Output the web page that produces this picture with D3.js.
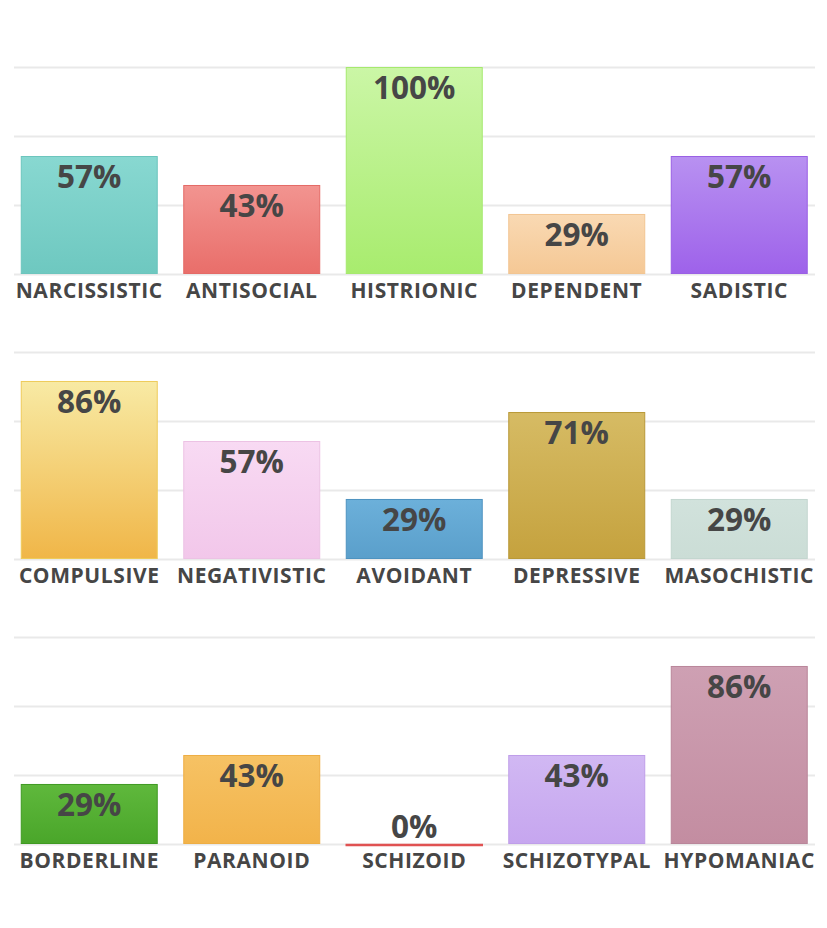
<!DOCTYPE html>
<html>
<head>
<meta charset="utf-8">
<script src="https://cdn.jsdelivr.net/npm/d3@7"></script>
<style>
  html, body { margin: 0; padding: 0; background: #fff; }
  svg { display: block; font-family: "Open Sans", sans-serif; }
</style>
</head>
<body>
<div id="chart"></div>
<script>
// rows of categories, values (%), and gradient colours (top, bottom, stroke)
const rowCategories = [
    ["NARCISSISTIC", "ANTISOCIAL", "HISTRIONIC", "DEPENDENT", "SADISTIC"],
    ["COMPULSIVE", "NEGATIVISTIC", "AVOIDANT", "DEPRESSIVE", "MASOCHISTIC"],
    ["BORDERLINE", "PARANOID", "SCHIZOID", "SCHIZOTYPAL", "HYPOMANIAC"]
];
const rowValues = [
    [57, 43, 100, 29, 57],
    [86, 57, 29, 71, 29],
    [29, 43, 0, 43, 86]
];
const topColors = [
    ["#88d8d1", "#f29490", "#cbf6a6", "#f9d9b3", "#b891f1"],
    ["#f8eaa4", "#f8daf3", "#6cb0da", "#d6bb64", "#d1e2dc"],
    ["#5fb83c", "#f6c264", "#e86060", "#d1b8f3", "#cea0b3"]
];
const bottomColors = [
    ["#6ec8c0", "#e96e6a", "#a8ec6e", "#f5c895", "#9e62ea"],
    ["#f0b648", "#f2c7ea", "#5a9fcb", "#c5a23e", "#cbddd6"],
    ["#4aa62a", "#f2b34a", "#e86060", "#c6a6ef", "#c38da1"]
];
const strokeColors = [
    ["#6cc5bd", "#e46a66", "#a6e96e", "#f2c592", "#9a60e4"],
    ["#eecb5a", "#ecc2e4", "#4e93c0", "#b99938", "#c3d6cf"],
    ["#3f9a22", "#eeae44", "#e05252", "#bf9ee9", "#b9869a"]
];
const gridTicks = [0, 100 / 3, 200 / 3, 100];

const W = 827, H = 928;
const rowBase = [274, 559, 844];
const rowTop = [67, 352, 637];

const svg = d3.select("#chart").append("svg")
    .attr("width", W)
    .attr("height", H);

const defs = svg.append("defs");

const x = d3.scaleBand()
    .domain(d3.range(5))
    .range([8, 820.5])
    .paddingInner(0.157)
    .paddingOuter(0.0785);

rowCategories.forEach((cats, r) => {
    const y = d3.scaleLinear()
        .domain([0, 100])
        .range([rowBase[r], rowTop[r]]);

    const g = svg.append("g");

    // gridlines
    g.selectAll("line.grid")
        .data(gridTicks)
        .enter()
        .append("line")
        .attr("class", "grid")
        .attr("x1", 14)
        .attr("x2", 815)
        .attr("y1", d => Math.round(y(d)) + 0.5)
        .attr("y2", d => Math.round(y(d)) + 0.5)
        .attr("stroke", "#e9e9e9")
        .attr("stroke-width", 2);

    const data = cats.map((c, i) => ({
        cat: c,
        i: i,
        v: rowValues[r][i],
        top: topColors[r][i],
        bottom: bottomColors[r][i],
        stroke: strokeColors[r][i]
    }));

    data.forEach(d => {
        const grad = defs.append("linearGradient")
            .attr("id", `grad-${r}-${d.i}`)
            .attr("x1", 0).attr("y1", 0)
            .attr("x2", 0).attr("y2", 1);
        grad.append("stop").attr("offset", "0%").attr("stop-color", d.top);
        grad.append("stop").attr("offset", "100%").attr("stop-color", d.bottom);
    });

    // bars
    g.selectAll("rect.bar")
        .data(data)
        .enter()
        .append("rect")
        .attr("class", "bar")
        .attr("x", d => x(d.i) + 0.5)
        .attr("y", d => y(d.v) + 0.5)
        .attr("width", x.bandwidth() - 1)
        .attr("height", d => Math.max(1, y(0) - y(d.v) - 1))
        .attr("fill", d => d.v > 0 ? `url(#grad-${r}-${d.i})` : d.bottom)
        .attr("stroke", d => d.stroke)
        .attr("stroke-width", d => d.v > 0 ? 1 : 1.5);

    // value labels
    g.selectAll("text.value")
        .data(data)
        .enter()
        .append("text")
        .attr("class", "value")
        .attr("x", d => x(d.i) + x.bandwidth() / 2)
        .attr("y", d => d.v >= 15 ? y(d.v) + 32 : y(d.v) - 6)
        .attr("text-anchor", "middle")
        .style("font-size", "31.5px")
        .style("font-weight", "bold")
        .style("fill", "#464646")
        .text(d => d.v + "%");

    // category labels
    g.selectAll("text.cat")
        .data(data)
        .enter()
        .append("text")
        .attr("class", "cat")
        .attr("x", d => x(d.i) + x.bandwidth() / 2)
        .attr("y", rowBase[r] + 24)
        .attr("text-anchor", "middle")
        .style("font-size", "21px")
        .style("font-weight", "bold")
        .style("letter-spacing", "0.6px")
        .style("fill", "#464646")
        .text(d => d.cat);
});
</script>
</body>
</html>
